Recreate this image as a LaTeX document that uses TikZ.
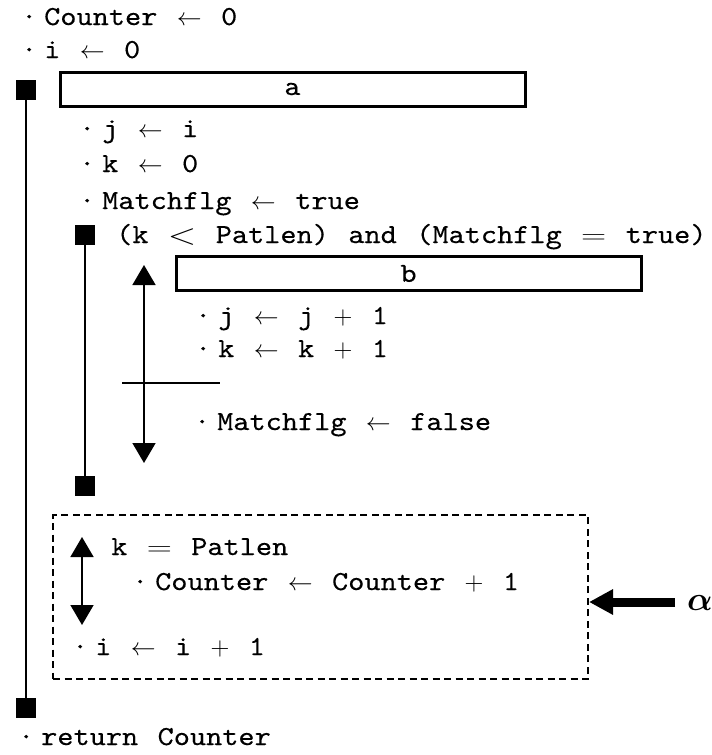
\documentclass[tikz,border=0pt]{standalone}
\usepackage{fontspec}
\setmonofont{lmmono10-regular.otf}[FakeStretch=1.12, FakeBold=0.3, WordSpace=1.2]
\usepackage{graphicx}
\usepackage{bm}
\usetikzlibrary{arrows.meta}

% pseudo-code tokens
\newcommand{\bl}{\makebox[14pt][c]{·}\kern 8pt}
\newcommand{\ga}{$\leftarrow$}
\newcommand{\lessop}{\raisebox{-1pt}{\scalebox{1.5}[1.2]{$<$}}}
\newcommand{\eqop}{\scalebox{1.4}[1]{$=$}}
\newcommand{\plusop}{\scalebox{1.05}{$+$}}

\tikzset{
  code/.style={font=\ttfamily\fontsize{27.5}{30}\selectfont, anchor=base west, inner sep=0pt},
  blockbox/.style={draw, line width=3pt, inner sep=0pt, minimum height=34pt,
    font=\ttfamily\fontsize{27.5}{30}\selectfont},
  sq/.style={fill=black, draw=none, minimum size=20pt, inner sep=0pt},
  thinline/.style={line width=1.8pt},
  dbl/.style={line width=1.6pt, {Triangle[width=23pt,length=20pt]}-{Triangle[width=23pt,length=20pt]}},
  dashbox/.style={draw, line width=2pt, dash pattern=on 7pt off 4.5pt, inner sep=0pt},
  fatarrow/.style={line width=9pt, -{Triangle[width=24pt,length=24pt]}}
}

\begin{document}
\begin{tikzpicture}[x=1pt, y=-1pt]
\useasboundingbox (0,0) rectangle (712,755);

% initialisation
\node[code] (c0) at (22,25) {\bl Counter \ga{} 0};
\node[code] (i0) at (22,58) {\bl i \ga{} 0};

% outer loop
\node[sq] (s1) at (26,90) {};
\node[blockbox, minimum width=465pt] (boxa) at (292.5,89) {a};
\node[code] (j0) at (80,137) {\bl j \ga{} i};
\node[code] (k0) at (80,172) {\bl k \ga{} 0};
\node[code] (m0) at (80,209) {\bl Matchflg \ga{} true};

% inner loop
\node[sq] (s2) at (85,235) {};
\node[code] (cond) at (116,243) {(k \lessop{} Patlen) and (Matchflg \eqop{} true)};
\node[blockbox, minimum width=465pt] (boxb) at (408.5,273.5) {b};
\node[code] (j1) at (196,324) {\bl j \ga{} j \plusop{} 1};
\node[code] (k1) at (196,357) {\bl k \ga{} k \plusop{} 1};
\node[code] (m1) at (195,430) {\bl Matchflg \ga{} false};

% selection inside the inner loop
\coordinate (u1) at (144,265);
\coordinate (d1) at (144,463);
\draw[dbl] (u1) -- (d1);
\coordinate (h1) at (122,383);
\coordinate (h2) at (220,383);
\draw[thinline] (h1) -- (h2);

\node[sq] (s3) at (85,486) {};
\draw[thinline] (s2.south) -- (s3.north);

% dashed block
\node[dashbox, minimum width=535pt, minimum height=164pt] (alt) at (320.5,597) {};
\coordinate (u2) at (82,537);
\coordinate (d2) at (82,625);
\draw[dbl] (u2) -- (d2);
\node[code] (kp) at (111,555) {k \eqop{} Patlen};
\node[code] (cc) at (133,590) {\bl Counter \ga{} Counter \plusop{} 1};
\node[code] (i1) at (73,655) {\bl i \ga{} i \plusop{} 1};

% pointer to the dashed block
\coordinate (tail) at (675,602);
\draw[fatarrow] (tail) -- (tail -| alt.east);
\node[inner sep=0pt] (al) at (700,603) {\scalebox{1.35}{\fontsize{24.88}{26}\selectfont$\bm{\alpha}$}};

% end of outer loop
\node[sq] (s4) at (26,708) {};
\draw[thinline] (s1.south) -- (s4.north);
\node[code] (ret) at (19,745) {\bl return Counter};
\end{tikzpicture}
\end{document}
